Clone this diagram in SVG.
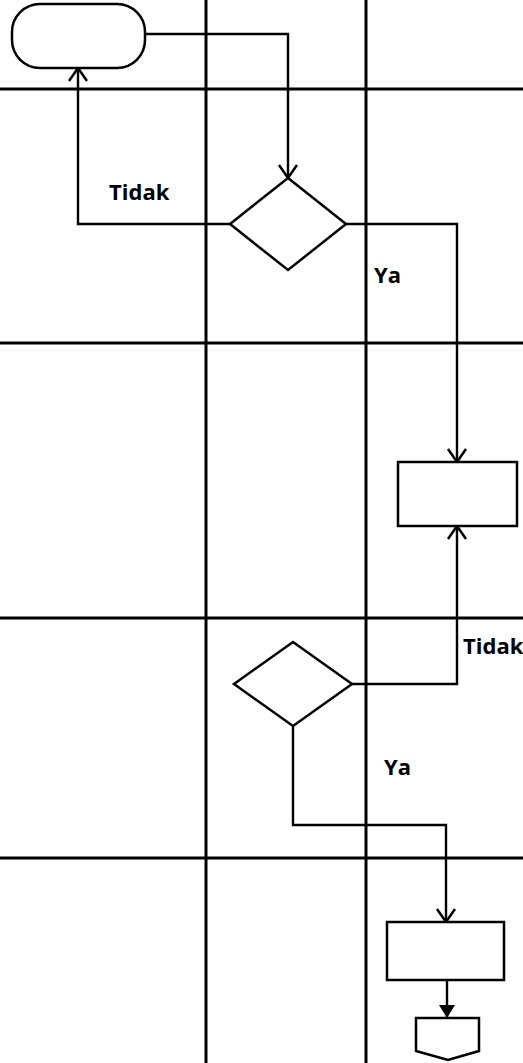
<svg xmlns="http://www.w3.org/2000/svg" width="523" height="1063" viewBox="0 0 523 1063">
  <style>
    .lane { stroke: #000; stroke-width: 3; fill: none; }
    .shape { stroke: #000; stroke-width: 2.5; fill: #fff; }
    .conn { stroke: #000; stroke-width: 2.4; fill: none; }
    .lbl { font-family: "Open Sans", "Liberation Sans", sans-serif; font-weight: bold; font-size: 22px; fill: #000; }
  </style>
  <defs>
    <marker id="open" markerUnits="userSpaceOnUse" viewBox="-15 -11 17 22" refX="0" refY="0" markerWidth="17" markerHeight="22" orient="auto">
      <path d="M-13,-9 L0,0 L-13,9" fill="none" stroke="#000" stroke-width="2.5"/>
    </marker>
    <marker id="solid" markerUnits="userSpaceOnUse" viewBox="-14 -9 15 18" refX="0" refY="0" markerWidth="15" markerHeight="18" orient="auto">
      <path d="M-13,-8 L0,0 L-13,8 Z" fill="#000"/>
    </marker>
  </defs>

  <!-- swimlane grid -->
  <g id="lanes">
    <line class="lane" x1="0" y1="89" x2="523" y2="89"/>
    <line class="lane" x1="0" y1="343" x2="523" y2="343"/>
    <line class="lane" x1="0" y1="618" x2="523" y2="618"/>
    <line class="lane" x1="0" y1="858" x2="523" y2="858"/>
    <line class="lane" x1="206" y1="0" x2="206" y2="1063"/>
    <line class="lane" x1="366" y1="0" x2="366" y2="1063"/>
  </g>

  <!-- connectors -->
  <g id="connectors">
    <polyline class="conn" points="145,34 288,34 288,178" marker-end="url(#open)"/>
    <polyline class="conn" points="230,224 78,224 78,68" marker-end="url(#open)"/>
    <polyline class="conn" points="346,224 457,224 457,462" marker-end="url(#open)"/>
    <polyline class="conn" points="352,684 457,684 457,526" marker-end="url(#open)"/>
    <polyline class="conn" points="293,726 293,825 446,825 446,922" marker-end="url(#open)"/>
    <line class="conn" x1="447" y1="980" x2="447" y2="1018" marker-end="url(#solid)"/>
  </g>

  <g id="start">
    <rect class="shape" x="12" y="4" width="133" height="64" rx="28" ry="28"/>
  </g>

  <g id="decision1">
    <polygon class="shape" points="288,178 346,224 288,270 230,224"/>
  </g>

  <g id="process1">
    <rect class="shape" x="398" y="462" width="119" height="64"/>
  </g>

  <g id="decision2">
    <polygon class="shape" points="293,642 352,684 293,726 234,684"/>
  </g>

  <g id="process2">
    <rect class="shape" x="387" y="922" width="117" height="58"/>
  </g>

  <g id="offpage">
    <polygon class="shape" points="416,1018 479,1018 479,1051 448,1060 416,1051"/>
  </g>

  <!-- branch labels -->
  <g id="labels">
    <text class="lbl" x="109" y="200">Tidak</text>
    <text class="lbl" x="374" y="283">Ya</text>
    <text class="lbl" x="463" y="654">Tidak</text>
    <text class="lbl" x="384" y="775">Ya</text>
  </g>
</svg>
